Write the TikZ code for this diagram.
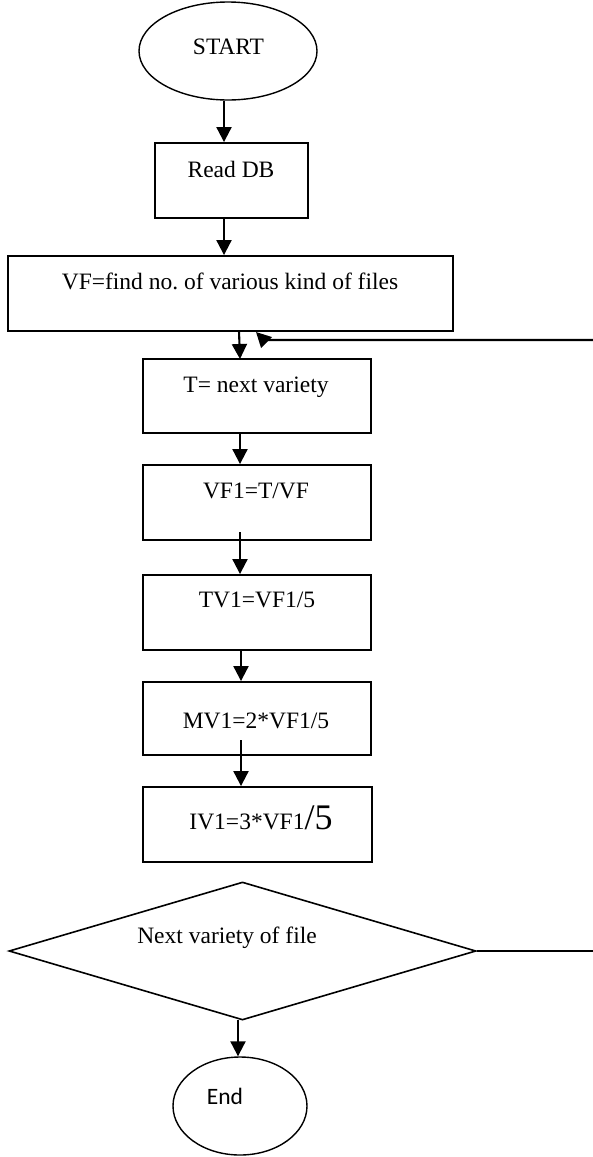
\documentclass[tikz,border=0pt]{standalone}
\usepackage{fontspec}
\setmainfont{Liberation Serif}
\newfontfamily\calibrifont{Carlito}
\usetikzlibrary{arrows.meta,shapes.geometric}
\tikzset{
  boxnode/.style={draw=black, line width=1.9pt, rectangle, inner sep=0pt},
  termnode/.style={draw=black, line width=1.4pt, ellipse, inner sep=0pt},
  decnode/.style={draw=black, line width=1.6pt, diamond, inner sep=0pt},
  txt/.style={anchor=base, inner sep=0pt, font=\fontsize{23.5}{27}\selectfont},
  arr/.style={line width=2.1pt, -{Triangle[length=15pt,width=15pt]}},
  plainline/.style={line width=2.1pt}
}
\begin{document}
\begin{tikzpicture}[x=1pt,y=-1pt]
\useasboundingbox (0,0) rectangle (593,1157);
% terminals
\node[termnode, minimum width=178pt, minimum height=98pt] (start) at (228,51) {};
\node[txt] (tstart) at (228.5,54) {START};
% boxes
\node[boxnode, minimum width=153pt, minimum height=75pt] (read) at (231.5,180.5) {};
\node[txt] (tread) at (231,177) {Read DB};
\node[boxnode, minimum width=445pt, minimum height=75pt] (vf) at (230.5,293.5) {};
\node[txt] (tvf) at (230,289) {VF=find no.\ of various kind of files};
\node[boxnode, minimum width=228pt, minimum height=74pt] (t) at (257,396) {};
\node[txt] (tt) at (256,392) {T= next variety};
\node[boxnode, minimum width=228pt, minimum height=75pt] (vf1) at (257,502.5) {};
\node[txt] (tvf1) at (256,498) {VF1=T/VF};
\node[boxnode, minimum width=228pt, minimum height=75pt] (tv1) at (257,612.5) {};
\node[txt] (ttv1) at (257,607) {TV1=VF1/5};
\node[boxnode, minimum width=228pt, minimum height=73pt] (mv1) at (257,718.5) {};
\node[txt] (tmv1) at (256,728) {MV1=2*VF1/5};
\node[boxnode, minimum width=229pt, minimum height=75pt] (iv1) at (257.5,824.5) {};
\node[txt] (tiv1) at (261,829) {IV1=3*VF1{\fontsize{36}{40}\selectfont/5}};
% decision
\node[decnode, minimum width=467pt, minimum height=138pt] (dec) at (242.5,951) {};
\node[txt] (tdec) at (227,943) {Next variety of file};
% end
\node[termnode, minimum width=134pt, minimum height=98pt] (end) at (240,1106) {};
\node[txt, font=\calibrifont\fontsize{23.5}{27}\selectfont] (tend) at (225,1104) {End};
% helper coordinates
\coordinate (fbR) at (593,340);
\coordinate (fbK) at (264,340);
\coordinate (fbT) at (256,332);
\coordinate (decR) at (593,951);
\coordinate (vfout) at (239,331);
\coordinate (tin) at (240,359);
\coordinate (mvout) at (241,740);
\coordinate (vfout1) at (240,532);
\coordinate (decout) at (238,1020);
% connectors
\draw[arr] (start.south -| 224,0) -- (read.north -| 224,0);
\draw[arr] (read.south -| 224,0) -- (vf.north -| 224,0);
\draw[arr] (vfout) -- (tin);
\draw[arr] (fbR) -- (fbK) -- (fbT);
\draw[arr] (t.south -| 240,0) -- (vf1.north -| 240,0);
\draw[arr] (vfout1) -- (tv1.north -| 240,0);
\draw[arr] (tv1.south -| 241,0) -- (mv1.north -| 241,0);
\draw[arr] (mvout) -- (iv1.north -| 241,0);
\draw[plainline] (dec.east) -- (decR);
\draw[arr] (decout) -- (end.north -| 238,0);
\end{tikzpicture}
\end{document}
